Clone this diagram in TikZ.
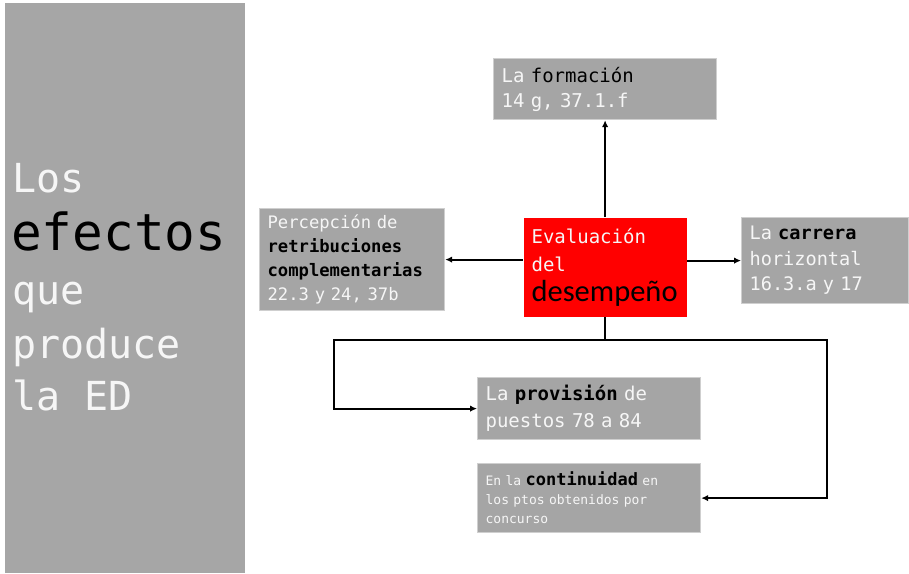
\documentclass[tikz,border=0pt]{standalone}
\usepackage{fontspec}
\usetikzlibrary{arrows.meta}
\setmonofont{DejaVu Sans Mono}
\newfontfamily\calibfont{Carlito}
\definecolor{panelgray}{HTML}{A6A6A6}
\definecolor{boxgray}{HTML}{A5A5A5}
\definecolor{boxedge}{HTML}{CFCFCF}
\definecolor{wtext}{HTML}{F6F6F6}
\newcommand{\dk}[1]{\textcolor{black}{#1}}
\begin{document}
\begin{tikzpicture}[x=1pt,y=-1pt,
    graybox/.style={draw=boxedge, line width=1.2pt, fill=boxgray, anchor=north west,
      inner xsep=8pt, inner ysep=0pt, align=left, text=wtext, font=\ttfamily},
    titleline/.style={anchor=base west, inner sep=0pt, text=wtext, font=\ttfamily\fontsize{40}{48}\selectfont},
    conn/.style={line width=2pt, black, -{Latex[length=7pt,width=6.5pt]}}]
    \useasboundingbox (0,0) rectangle (909,573);
    \fill [panelgray] (5,3) rectangle (245,573);% left panel
    \node (titleA) [titleline] at (12,192) {Los};
    \node (titleB) [titleline, text=black, font=\ttfamily\fontsize{51}{58}\selectfont] at (11,250) {efectos};
    \node (titleC) [titleline] at (12,304) {que};
    \node (titleD) [titleline] at (12,358) {produce};
    \node (titleE) [titleline] at (12,410) {la ED};
    \node (form) [graybox, text width=207pt, minimum height=61pt, font=\ttfamily\fontsize{19}{25}\selectfont]
      at (493,58) {La \dk{formación}\\14 g, 37.1.f};
    \node (perc) [graybox, text width=169pt, minimum height=102pt, font=\ttfamily\fontsize{17.2}{24}\selectfont]
      at (259,208) {Percepción de\\\dk{\bfseries retribuciones}\\\dk{\bfseries complementarias}\\22.3 y 24, 37b};
    \node (eval) [graybox, draw=none, fill=red, text width=147pt, minimum height=99pt, font=\ttfamily\fontsize{19}{28}\selectfont]
      at (523,217) {Evaluación\\del\\[2pt]{\color{black}\calibfont\fontsize{30.5}{32}\selectfont desempeño}};
    \node (carr) [graybox, text width=151pt, minimum height=86pt, font=\ttfamily\fontsize{18.6}{25.5}\selectfont]
      at (741,217) {La \dk{\bfseries carrera}\\horizontal\\16.3.a y 17};
    \node (prov) [graybox, text width=207pt, minimum height=62pt, font=\ttfamily\fontsize{19}{27}\selectfont]
      at (477,377) {La \dk{\bfseries provisión} de\\puestos 78 a 84};
    \node (cont) [graybox, text width=207pt, minimum height=69pt, font=\ttfamily\fontsize{13}{19}\selectfont]
      at (477,463) {En la \dk{\bfseries\fontsize{17}{19}\selectfont continuidad} en\\los ptos obtenidos por\\concurso};
    \coordinate (BranchL) at (334,340);
    \coordinate (BranchR) at (827,340);
    \draw [conn] (eval.north) -- (form.south);% up
    \draw [conn] (eval.west |- perc.east) -- (perc.east);% left
    \draw [conn] (eval.east |- carr.west) -- (carr.west);% right
    \draw [conn] (eval.south) |- (BranchL) |- (prov.west);% down left
    \draw [conn] (eval.south) |- (BranchR) |- (cont.east);% down right
\end{tikzpicture}
\end{document}
